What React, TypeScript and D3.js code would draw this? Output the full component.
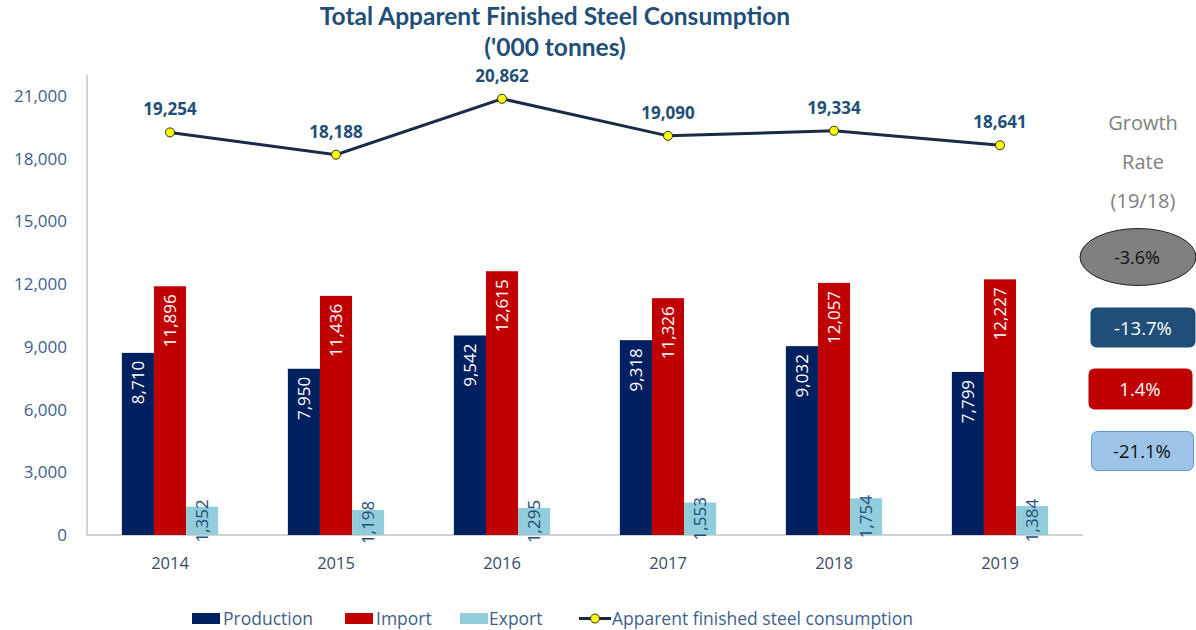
import React from "react";
import * as d3 from "d3";

const years = ["2014", "2015", "2016", "2017", "2018", "2019"];
const production = [8710, 7950, 9542, 9318, 9032, 7799];
const importVals = [11896, 11436, 12615, 11326, 12057, 12227];
const exportVals = [1352, 1198, 1295, 1553, 1754, 1384];
const consumption = [19254, 18188, 20862, 19090, 19334, 18641];
const yTicks = [0, 3000, 6000, 9000, 12000, 15000, 18000, 21000];
const growthLabels = ["-3.6%", "-13.7%", "1.4%", "-21.1%"];
const seriesNames = ["Production", "Import", "Export", "Apparent finished steel consumption"];

const W = 1196, H = 630;
const FONT = "'Open Sans', Lato, sans-serif";

export default function App() {
  const left = 87, right = 1083, top = 75, bottom = 535;
  const y = d3.scaleLinear().domain([0, 22000]).range([bottom, top]);
  const x = d3.scaleBand().domain(years).range([left, right]).paddingInner(0.42).paddingOuter(0.21);
  const sub = d3.scaleBand().domain(["p", "i", "e"]).range([0, x.bandwidth()]);
  const cx = (yr: string) => (x(yr) as number) + x.bandwidth() / 2;
  const fmt = d3.format(",");
  const line = d3.line<number>().x((_, i) => cx(years[i])).y((d) => y(d));
  const colors = { p: "#002060", i: "#C00000", e: "#92CDDC" };
  const series: [keyof typeof colors, number[]][] = [["p", production], ["i", importVals], ["e", exportVals]];
  const tickColor = "#3F5F8C";

  return (
    <svg width={W} height={H} style={{ position: "absolute", left: 0, top: 0, background: "#fff" }} fontFamily={FONT}>
      <rect width={W} height={H} fill="#fff" />
      <text x={555} y={25} textAnchor="middle" fontSize={24.5} fontWeight={700} fill="#1F4E79" fontFamily="Lato, sans-serif">Total Apparent Finished Steel Consumption</text>
      <text x={555} y={56} textAnchor="middle" fontSize={24.5} fontWeight={700} fill="#1F4E79" fontFamily="Lato, sans-serif">('000 tonnes)</text>

      {/* axes */}
      <line x1={left} x2={left} y1={top} y2={bottom} stroke="#a6a6a6" strokeWidth={1} />
      <line x1={left} x2={right} y1={bottom} y2={bottom} stroke="#a6a6a6" strokeWidth={1} />
      {yTicks.map((t) => (
        <text key={t} x={67} y={y(t) + 6} textAnchor="end" fontSize={17} fill={tickColor}>{fmt(t)}</text>
      ))}
      {years.map((yr) => (
        <text key={yr} x={cx(yr)} y={569} textAnchor="middle" fontSize={16.5} fill="#3A4A66">{yr}</text>
      ))}

      {/* bars */}
      {series.map(([k, vals]) =>
        vals.map((v, i) => {
          const bx = (x(years[i]) as number) + (sub(k) as number);
          const bw = sub.bandwidth();
          return <rect key={k + i} x={bx} y={y(v)} width={bw} height={bottom - y(v)} fill={colors[k]} />;
        })
      )}
      {series.map(([k, vals]) =>
        vals.map((v, i) => {
          const bx = (x(years[i]) as number) + (sub(k) as number) + sub.bandwidth() / 2;
          if (k === "e") {
            const my = (y(v) + bottom) / 2;
            return (
              <text key={"l" + k + i} transform={`translate(${bx + 6},${my}) rotate(-90)`} textAnchor="middle" fontSize={17} fill="#1F4E79">{fmt(v)}</text>
            );
          }
          return (
            <text key={"l" + k + i} transform={`translate(${bx + 6},${y(v) + 8}) rotate(-90)`} textAnchor="end" fontSize={17} fill="#fff">{fmt(v)}</text>
          );
        })
      )}

      {/* line */}
      <path d={line(consumption) as string} fill="none" stroke="#1B2A47" strokeWidth={3} />
      {consumption.map((v, i) => (
        <g key={"pt" + i}>
          <circle cx={cx(years[i])} cy={y(v)} r={4.5} fill="#FFFF00" stroke="#2b2b2b" strokeWidth={1} />
          <text x={cx(years[i])} y={y(v) - 17} textAnchor="middle" fontSize={17} fontWeight={700} fill="#1F4E79">{fmt(v)}</text>
        </g>
      ))}

      {/* growth rate panel */}
      <text x={1143} y={130} textAnchor="middle" fontSize={20} fill="#808080">Growth</text>
      <text x={1143} y={169} textAnchor="middle" fontSize={20} fill="#808080">Rate</text>
      <text x={1143} y={208} textAnchor="middle" fontSize={20} fill="#808080">(19/18)</text>
      <ellipse cx={1138} cy={257} rx={58} ry={28.5} fill="#808080" stroke="#222" strokeWidth={1} />
      <text x={1137} y={264} textAnchor="middle" fontSize={18} fill="#111">{growthLabels[0]}</text>
      <rect x={1090.5} y={307.5} width={105} height={40} rx={6} fill="#1F4E79" />
      <text x={1143} y={335} textAnchor="middle" fontSize={18.5} fill="#fff">{growthLabels[1]}</text>
      <rect x={1088.5} y={368.5} width={104} height={41} rx={6} fill="#C00000" />
      <text x={1140} y={396} textAnchor="middle" fontSize={18.5} fill="#fff">{growthLabels[2]}</text>
      <rect x={1091.5} y={431.5} width={102} height={39} rx={6} fill="#9DC3E6" stroke="#5B9BD5" strokeWidth={1} />
      <text x={1142} y={458} textAnchor="middle" fontSize={18.5} fill="#111">{growthLabels[3]}</text>

      {/* legend */}
      <rect x={192} y={613} width={28} height={11} fill={colors.p} />
      <text x={223} y={625} fontSize={17.5} fill={tickColor}>{seriesNames[0]}</text>
      <rect x={345} y={613} width={28} height={11} fill={colors.i} />
      <text x={376} y={625} fontSize={17.5} fill={tickColor}>{seriesNames[1]}</text>
      <rect x={460} y={613} width={28} height={11} fill={colors.e} />
      <text x={489} y={625} fontSize={17.5} fill={tickColor}>{seriesNames[2]}</text>
      <line x1={579} x2={611} y1={618.5} y2={618.5} stroke="#1B2A47" strokeWidth={3} />
      <circle cx={595} cy={618.5} r={4.5} fill="#FFFF00" stroke="#2b2b2b" strokeWidth={1} />
      <text x={612} y={625} fontSize={17.5} fill={tickColor}>{seriesNames[3]}</text>
    </svg>
  );
}
